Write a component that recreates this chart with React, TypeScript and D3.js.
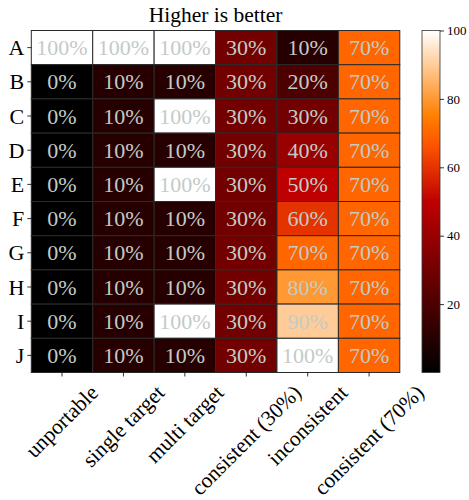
import React, { useEffect, useRef } from "react";
import * as d3 from "d3";

const title = "Higher is better";
const rows = ["A", "B", "C", "D", "E", "F", "G", "H", "I", "J"];
const columns = [
  "unportable",
  "single target",
  "multi target",
  "consistent (30%)",
  "inconsistent",
  "consistent (70%)",
];
const unportable = [100, 0, 0, 0, 0, 0, 0, 0, 0, 0];
const singleTarget = [100, 10, 10, 10, 10, 10, 10, 10, 10, 10];
const multiTarget = [100, 10, 100, 10, 100, 10, 10, 10, 100, 10];
const consistent30 = [30, 30, 30, 30, 30, 30, 30, 30, 30, 30];
const inconsistent = [10, 20, 30, 40, 50, 60, 70, 80, 90, 100];
const consistent70 = [70, 70, 70, 70, 70, 70, 70, 70, 70, 70];
const colorbarTicks = [20, 40, 60, 80, 100];

const seriesByColumn = [unportable, singleTarget, multiTarget, consistent30, inconsistent, consistent70];

const clamp = (v: number) => Math.max(0, Math.min(1, v));
const gistHeat = (t: number) =>
  d3.rgb(clamp(1.5 * t) * 255, clamp(2 * t - 1) * 255, clamp(4 * t - 3) * 255).formatHex();

const W = 469;
const H = 500;
const left = 31.3;
const right = 399.8;
const top = 30.5;
const bottom = 372.5;
const cbLeft = 422;
const cbRight = 440;
const FONT = "'Liberation Serif', 'Times New Roman', serif";
const textColor = "#c3cbc6";

export default function App() {
  const ref = useRef<SVGSVGElement | null>(null);

  useEffect(() => {
    const svg = d3.select(ref.current);
    svg.selectAll("*").remove();

    const x = d3.scaleBand<string>().domain(columns).range([left, right]);
    const y = d3.scaleBand<string>().domain(rows).range([top, bottom]);
    const color = d3.scaleSequential((t: number) => gistHeat(t)).domain([0, 100]);

    const cells: { r: string; c: string; v: number }[] = [];
    columns.forEach((c, ci) => {
      rows.forEach((r, ri) => {
        cells.push({ r, c, v: seriesByColumn[ci][ri] });
      });
    });

    const g = svg.append("g");
    g.selectAll("rect.cell")
      .data(cells)
      .enter()
      .append("rect")
      .attr("x", (d) => x(d.c)!)
      .attr("y", (d) => y(d.r)!)
      .attr("width", x.bandwidth())
      .attr("height", y.bandwidth())
      .attr("fill", (d) => color(d.v))
      .attr("stroke", "#2a2a2a")
      .attr("stroke-width", 1);

    g.selectAll("text.cell")
      .data(cells)
      .enter()
      .append("text")
      .attr("x", (d) => x(d.c)! + x.bandwidth() / 2)
      .attr("y", (d) => y(d.r)! + y.bandwidth() / 2 + 7.5)
      .attr("text-anchor", "middle")
      .attr("font-family", FONT)
      .attr("font-size", 22)
      .attr("fill", textColor)
      .text((d) => `${d.v}%`);

    // title
    svg
      .append("text")
      .attr("x", (left + right) / 2)
      .attr("y", 22)
      .attr("text-anchor", "middle")
      .attr("font-family", FONT)
      .attr("font-size", 21.5)
      .attr("fill", "#000")
      .text(title);

    // row axis
    const yAxis = svg.append("g");
    rows.forEach((r) => {
      const cy = y(r)! + y.bandwidth() / 2;
      yAxis
        .append("line")
        .attr("x1", left - 4)
        .attr("x2", left)
        .attr("y1", cy)
        .attr("y2", cy)
        .attr("stroke", "#000")
        .attr("stroke-width", 0.8);
      yAxis
        .append("text")
        .attr("x", left - 7)
        .attr("y", cy + 7.5)
        .attr("text-anchor", "end")
        .attr("font-family", FONT)
        .attr("font-size", 22)
        .attr("fill", "#000")
        .text(r);
    });

    // column axis
    const xAxis = svg.append("g");
    const s = Math.SQRT1_2;
    const labelSize = 21.5;
    columns.forEach((c) => {
      const cx = x(c)! + x.bandwidth() / 2;
      xAxis
        .append("line")
        .attr("x1", cx)
        .attr("x2", cx)
        .attr("y1", bottom)
        .attr("y2", bottom + 4)
        .attr("stroke", "#000")
        .attr("stroke-width", 0.8);
      const t = xAxis
        .append("text")
        .attr("text-anchor", "middle")
        .attr("dominant-baseline", "central")
        .attr("font-family", FONT)
        .attr("font-size", labelSize)
        .attr("fill", "#000")
        .text(c);
      const w = (t.node() as SVGTextElement).getComputedTextLength();
      const h = labelSize * 0.85;
      const bboxH = (w + h) * s;
      const cyy = bottom + 10 + bboxH / 2;
      t.attr("transform", `translate(${cx},${cyy}) rotate(-45)`);
    });

    // colorbar
    const cbScale = d3.scaleLinear().domain([0, 100]).range([bottom, top]);
    const defs = svg.append("defs");
    const grad = defs
      .append("linearGradient")
      .attr("id", "cbgrad")
      .attr("x1", 0)
      .attr("y1", 1)
      .attr("x2", 0)
      .attr("y2", 0);
    d3.range(0, 101).forEach((i) => {
      grad
        .append("stop")
        .attr("offset", `${i}%`)
        .attr("stop-color", gistHeat(i / 100));
    });
    svg
      .append("rect")
      .attr("x", cbLeft)
      .attr("y", top)
      .attr("width", cbRight - cbLeft)
      .attr("height", bottom - top)
      .attr("fill", "url(#cbgrad)")
      .attr("stroke", "#333")
      .attr("stroke-width", 0.8);

    const cbAxis = d3
      .axisRight(cbScale)
      .tickValues(colorbarTicks)
      .tickSize(4)
      .tickPadding(3)
      .tickFormat(d3.format("d"));
    const cbg = svg
      .append("g")
      .attr("transform", `translate(${cbRight},0)`)
      .call(cbAxis);
    cbg.select(".domain").remove();
    cbg.selectAll(".tick line").attr("stroke", "#000").attr("stroke-width", 0.8);
    cbg
      .selectAll(".tick text")
      .attr("font-family", FONT)
      .attr("font-size", 13)
      .attr("fill", "#000");
  }, []);

  return (
    <svg
      ref={ref}
      width={W}
      height={H}
      style={{ position: "absolute", left: 0, top: 0, background: "#fff" }}
    />
  );
}
